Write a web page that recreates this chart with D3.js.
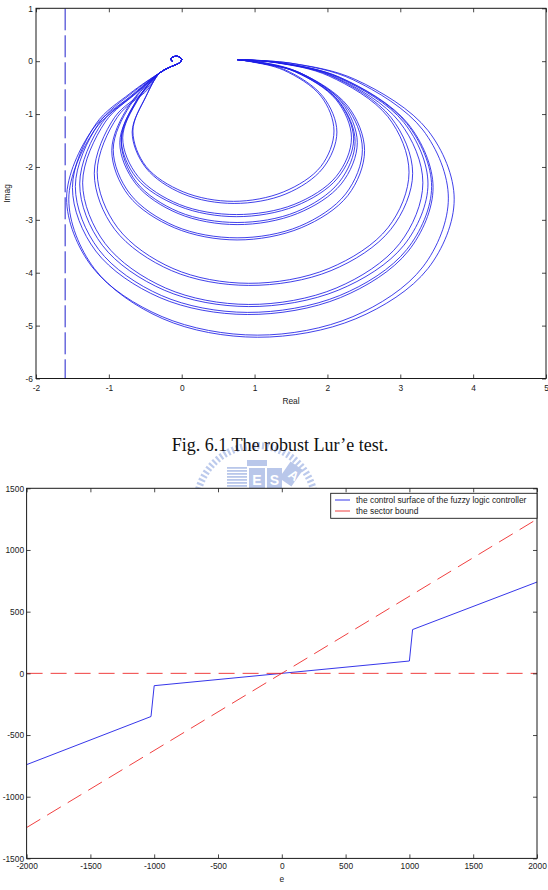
<!DOCTYPE html>
<html><head><meta charset="utf-8">
<script src="https://cdn.jsdelivr.net/npm/d3@7"></script>
<style>
body{margin:0;background:#fff}
svg{display:block}
</style>
</head><body>
<svg id="c" width="548" height="890"></svg>
<script>
// ---------- Top chart (robust Lur'e test) ----------
const topXTicks = [-2, -1, 0, 1, 2, 3, 4, 5];
const topYTicks = [1, 0, -1, -2, -3, -4, -5, -6];
const lureBound = -1.6;
const startPt = [[0.76, 0.03]];
const curlPts = [[-0.30,-0.22],[-0.14,-0.10],[-0.03,-0.03],[0.00,0.04],[-0.05,0.09],[-0.12,0.08],[-0.15,0.03],[-0.12,-0.01]];
const loop1a = [[0.95,-0.01],[1.40,-0.17],[1.91,-0.66],[2.09,-1.32],[1.91,-1.99],[1.40,-2.47],[0.71,-2.65],[0.02,-2.47],[-0.49,-1.99],[-0.67,-1.32],[-0.49,-0.66]];
const loop1b = [[0.97,-0.01],[1.43,-0.17],[1.94,-0.67],[2.13,-1.34],[1.94,-2.02],[1.43,-2.51],[0.72,-2.69],[0.02,-2.51],[-0.49,-2.02],[-0.68,-1.34],[-0.49,-0.67]];
const loop2a = [[1.03,-0.02],[1.54,-0.19],[2.12,-0.73],[2.33,-1.45],[2.12,-2.18],[1.54,-2.71],[0.75,-2.90],[-0.03,-2.71],[-0.60,-2.18],[-0.81,-1.45],[-0.60,-0.73]];
const loop2b = [[1.03,-0.02],[1.56,-0.20],[2.14,-0.74],[2.36,-1.47],[2.14,-2.21],[1.56,-2.74],[0.75,-2.94],[-0.04,-2.74],[-0.62,-2.21],[-0.83,-1.47],[-0.62,-0.74]];
const loop3a = [[1.04,-0.01],[1.57,-0.20],[2.16,-0.76],[2.38,-1.52],[2.16,-2.29],[1.57,-2.85],[0.76,-3.05],[-0.04,-2.85],[-0.62,-2.29],[-0.83,-1.52],[-0.62,-0.76]];
const loop3b = [[1.05,-0.01],[1.59,-0.20],[2.19,-0.77],[2.41,-1.54],[2.19,-2.32],[1.59,-2.88],[0.76,-3.09],[-0.05,-2.88],[-0.63,-2.32],[-0.85,-1.54],[-0.63,-0.77]];
const loop4a = [[1.06,-0.03],[1.62,-0.22],[2.25,-0.84],[2.48,-1.67],[2.25,-2.51],[1.62,-3.12],[0.76,-3.34],[-0.09,-3.12],[-0.71,-2.51],[-0.94,-1.67],[-0.71,-0.84]];
const loop4b = [[1.07,-0.03],[1.64,-0.23],[2.28,-0.85],[2.51,-1.69],[2.28,-2.54],[1.64,-3.15],[0.76,-3.38],[-0.10,-3.15],[-0.73,-2.54],[-0.96,-1.69],[-0.73,-0.85]];
const loop5a = [[1.30,-0.03],[2.02,-0.28],[2.83,-1.05],[3.12,-2.10],[2.83,-3.15],[2.02,-3.92],[0.92,-4.20],[-0.12,-3.92],[-0.88,-3.15],[-1.16,-2.10],[-0.88,-1.05],[-0.47,-0.54]];
const loop5b = [[1.31,-0.03],[2.05,-0.28],[2.87,-1.06],[3.17,-2.12],[2.87,-3.18],[2.05,-3.96],[0.92,-4.24],[-0.14,-3.96],[-0.92,-3.18],[-1.20,-2.12],[-0.92,-1.06],[-0.50,-0.55]];
const loop6a = [[1.34,-0.03],[2.12,-0.31],[2.99,-1.15],[3.31,-2.30],[2.99,-3.45],[2.12,-4.29],[0.92,-4.60],[-0.22,-4.29],[-1.05,-3.45],[-1.36,-2.30],[-1.05,-1.15],[-0.61,-0.59]];
const loop6b = [[1.35,-0.03],[2.15,-0.31],[3.05,-1.16],[3.38,-2.32],[3.05,-3.48],[2.15,-4.33],[0.92,-4.64],[-0.24,-4.33],[-1.09,-3.48],[-1.40,-2.32],[-1.09,-1.16],[-0.63,-0.60]];
const loop7a = [[1.34,-0.03],[2.17,-0.31],[3.09,-1.18],[3.43,-2.37],[3.09,-3.56],[2.17,-4.43],[0.90,-4.75],[-0.28,-4.43],[-1.14,-3.56],[-1.46,-2.37],[-1.14,-1.18],[-0.68,-0.60]];
const loop7b = [[1.34,-0.03],[2.18,-0.31],[3.11,-1.19],[3.45,-2.39],[3.11,-3.59],[2.18,-4.47],[0.90,-4.79],[-0.30,-4.47],[-1.18,-3.59],[-1.50,-2.39],[-1.18,-1.19],[-0.71,-0.61]];
const loop8a = [[1.50,-0.04],[2.35,-0.35],[3.31,-1.30],[3.66,-2.59],[3.31,-3.89],[2.35,-4.83],[1.04,-5.18],[-0.27,-4.83],[-1.23,-3.89],[-1.58,-2.59],[-1.23,-1.30],[-0.71,-0.67]];
const loop8b = [[1.51,-0.04],[2.39,-0.35],[3.38,-1.31],[3.74,-2.61],[3.38,-3.92],[2.39,-4.87],[1.04,-5.22],[-0.26,-4.87],[-1.20,-3.92],[-1.55,-2.61],[-1.20,-1.31],[-0.69,-0.67]];
const loops = [loop1a,loop1b,loop2a,loop2b,loop3a,loop3b,loop4a,loop4b,loop5a,loop5b,loop6a,loop6b,loop7a,loop7b,loop8a,loop8b];

// ---------- Bottom chart (control surface & sector bound) ----------
const botXTicks = [-2000, -1500, -1000, -500, 0, 500, 1000, 1500, 2000];
const botYTicks = [-1500, -1000, -500, 0, 500, 1000, 1500];
const surfE = [-2000, -1025, -1000, 1000, 1025, 2000];
const surfU = [-740, -350, -100, 100, 355, 740];
const boundE = [-2000, 2000];
const boundLow = [0, 0];
const boundHigh = [-1250, 1250];
const legendLabels = ["the control surface of the fuzzy logic controller", "the sector bound"];
const captionText = "Fig. 6.1 The robust Lur\u2019e test.";

const SANS = "'Liberation Sans',Arial,sans-serif";
const SERIF = "'Liberation Serif','Times New Roman',serif";
const svg = d3.select("#c");
svg.append("rect").attr("width",548).attr("height",890).attr("fill","#fff");
const FS = 8.4, INK = "#1a1a1a";
const BLUE = "#1f1fe6", RED = "#ee2a2a";

function styleAxis(g){
  g.select(".domain").remove();
  g.selectAll(".tick line").attr("stroke",INK).attr("stroke-width",0.8);
  g.selectAll(".tick text").attr("font-size",FS).attr("fill",INK).style("font-family",SANS);
}
const fmt = d => String(d);
function label(g){ return g.append("text").style("font-family",SANS).attr("font-size",FS).attr("fill",INK); }

// ===== Top chart =====
const xT = d3.scaleLinear().domain([-2,5]).range([36,546]);
const yT = d3.scaleLinear().domain([-6,1]).range([378.5,8.3]);
svg.append("clipPath").attr("id","clipT").append("rect")
  .attr("x",xT(-2)).attr("y",yT(1)).attr("width",xT(5)-xT(-2)).attr("height",yT(-6)-yT(1));
const gT = svg.append("g");
const plotT = gT.append("g").attr("clip-path","url(#clipT)");
plotT.append("line")
  .attr("x1",xT(lureBound)).attr("x2",xT(lureBound)).attr("y1",yT(1)).attr("y2",yT(-6))
  .attr("stroke","#2020cc").attr("stroke-width",1).attr("stroke-dasharray","22 5");
const lineT = d3.line().x(d=>xT(d[0])).y(d=>yT(d[1])).curve(d3.curveCatmullRom.alpha(0.5));
plotT.selectAll("path.loop").data(loops).join("path").attr("class","loop")
  .attr("d", d => lineT(startPt.concat(d, curlPts)))
  .attr("fill","none").attr("stroke",BLUE).attr("stroke-width",0.85);

gT.append("g").attr("transform",`translate(0,${yT(-6)})`)
  .call(d3.axisBottom(xT).tickValues(topXTicks).tickSize(-4).tickPadding(7).tickFormat(fmt)).call(styleAxis);
gT.append("g").attr("transform",`translate(0,${yT(1)})`)
  .call(d3.axisTop(xT).tickValues(topXTicks).tickSize(-4).tickFormat("")).call(styleAxis);
gT.append("g").attr("transform",`translate(${xT(-2)},0)`)
  .call(d3.axisLeft(yT).tickValues(topYTicks).tickSize(-4).tickPadding(3).tickFormat(fmt)).call(styleAxis);
gT.append("g").attr("transform",`translate(${xT(5)},0)`)
  .call(d3.axisRight(yT).tickValues(topYTicks).tickSize(-4).tickFormat("")).call(styleAxis);
gT.append("rect").attr("x",xT(-2)).attr("y",yT(1)).attr("width",xT(5)-xT(-2)).attr("height",yT(-6)-yT(1))
  .attr("fill","none").attr("stroke",INK).attr("stroke-width",1);
label(gT).attr("x",(xT(-2)+xT(5))/2).attr("y",404).attr("text-anchor","middle").text("Real");
label(gT).attr("transform",`translate(10,${(yT(1)+yT(-6))/2}) rotate(-90)`).attr("text-anchor","middle").text("Imag");

// ===== Watermark (faint logo) =====
const wm = svg.append("g").attr("fill","#b9c7ea").attr("stroke","none");
wm.append("circle").attr("cx",256).attr("cy",505).attr("r",59.5).attr("fill","none")
  .attr("stroke","#bccaec").attr("stroke-width",7).attr("stroke-dasharray","2.2 2.2");
for (let i=0;i<7;i++) wm.append("rect").attr("x",227).attr("y",467+i*3).attr("width",20).attr("height",1.8);
wm.append("rect").attr("x",247).attr("y",460).attr("width",20).attr("height",6);
wm.append("rect").attr("x",249).attr("y",468).attr("width",16).attr("height",20);
wm.append("rect").attr("x",267).attr("y",468).attr("width",15).attr("height",20);
wm.append("rect").attr("x",-7.5).attr("y",-10).attr("width",15).attr("height",20)
  .attr("transform","translate(291,474) rotate(35)");
wm.append("text").style("font-family",SANS).attr("x",257).attr("y",485).attr("text-anchor","middle").attr("font-size",14)
  .attr("font-weight","bold").attr("fill","#fff").text("E");
wm.append("text").style("font-family",SANS).attr("x",274.5).attr("y",485).attr("text-anchor","middle").attr("font-size",14)
  .attr("font-weight","bold").attr("fill","#fff").text("S");
wm.append("text").style("font-family",SANS).attr("transform","translate(291,479) rotate(35)").attr("text-anchor","middle").attr("font-size",13)
  .attr("font-weight","bold").attr("fill","#fff").text("A");

// caption
svg.append("text").attr("x",280).attr("y",451).attr("text-anchor","middle")
  .style("font-family",SERIF).attr("font-size",18).attr("fill","#111")
  .text(captionText);

// ===== Bottom chart =====
const xB = d3.scaleLinear().domain([-2000,2000]).range([26.6,537]);
const yB = d3.scaleLinear().domain([-1500,1500]).range([858.4,488.3]);
const gB = svg.append("g");
gB.append("rect").attr("x",xB(-2000)).attr("y",yB(1500)).attr("width",xB(2000)-xB(-2000)).attr("height",yB(-1500)-yB(1500)).attr("fill","#fff");
svg.append("clipPath").attr("id","clipB").append("rect")
  .attr("x",xB(-2000)).attr("y",yB(1500)).attr("width",xB(2000)-xB(-2000)).attr("height",yB(-1500)-yB(1500));
const plotB = gB.append("g").attr("clip-path","url(#clipB)");
const lineB = d3.line().x(d=>xB(d[0])).y(d=>yB(d[1]));
plotB.append("path").attr("d", lineB(surfE.map((e,i)=>[e,surfU[i]])))
  .attr("fill","none").attr("stroke",BLUE).attr("stroke-width",0.9);
[boundLow, boundHigh].forEach(b => {
  plotB.append("path").attr("d", lineB(boundE.map((e,i)=>[e,b[i]])))
    .attr("fill","none").attr("stroke",RED).attr("stroke-width",0.9).attr("stroke-dasharray","16 8");
});
gB.append("g").attr("transform",`translate(0,${yB(-1500)})`)
  .call(d3.axisBottom(xB).tickValues(botXTicks).tickSize(-4).tickPadding(5).tickFormat(fmt)).call(styleAxis);
gB.append("g").attr("transform",`translate(0,${yB(1500)})`)
  .call(d3.axisTop(xB).tickValues(botXTicks).tickSize(-4).tickFormat("")).call(styleAxis);
gB.append("g").attr("transform",`translate(${xB(-2000)},0)`)
  .call(d3.axisLeft(yB).tickValues(botYTicks).tickSize(-4).tickPadding(2.5).tickFormat(fmt)).call(styleAxis);
gB.append("g").attr("transform",`translate(${xB(2000)},0)`)
  .call(d3.axisRight(yB).tickValues(botYTicks).tickSize(-4).tickFormat("")).call(styleAxis);
gB.append("rect").attr("x",xB(-2000)).attr("y",yB(1500)).attr("width",xB(2000)-xB(-2000)).attr("height",yB(-1500)-yB(1500))
  .attr("fill","none").attr("stroke",INK).attr("stroke-width",1);
label(gB).attr("x",(xB(-2000)+xB(2000))/2).attr("y",882).attr("text-anchor","middle").text("e");

// legend
const lg = gB.append("g");
lg.append("rect").attr("x",330.7).attr("y",493.3).attr("width",537-330.7).attr("height",25)
  .attr("fill","#fff").attr("stroke",INK).attr("stroke-width",0.9);
const lgColors = [BLUE, RED];
legendLabels.forEach((t,i) => {
  const yy = 500 + i*11;
  lg.append("line").attr("x1",335).attr("x2",350).attr("y1",yy).attr("y2",yy)
    .attr("stroke",lgColors[i]).attr("stroke-width",0.9);
  label(lg).attr("x",356).attr("y",yy+3).text(t);
});
</script>
</body></html>
